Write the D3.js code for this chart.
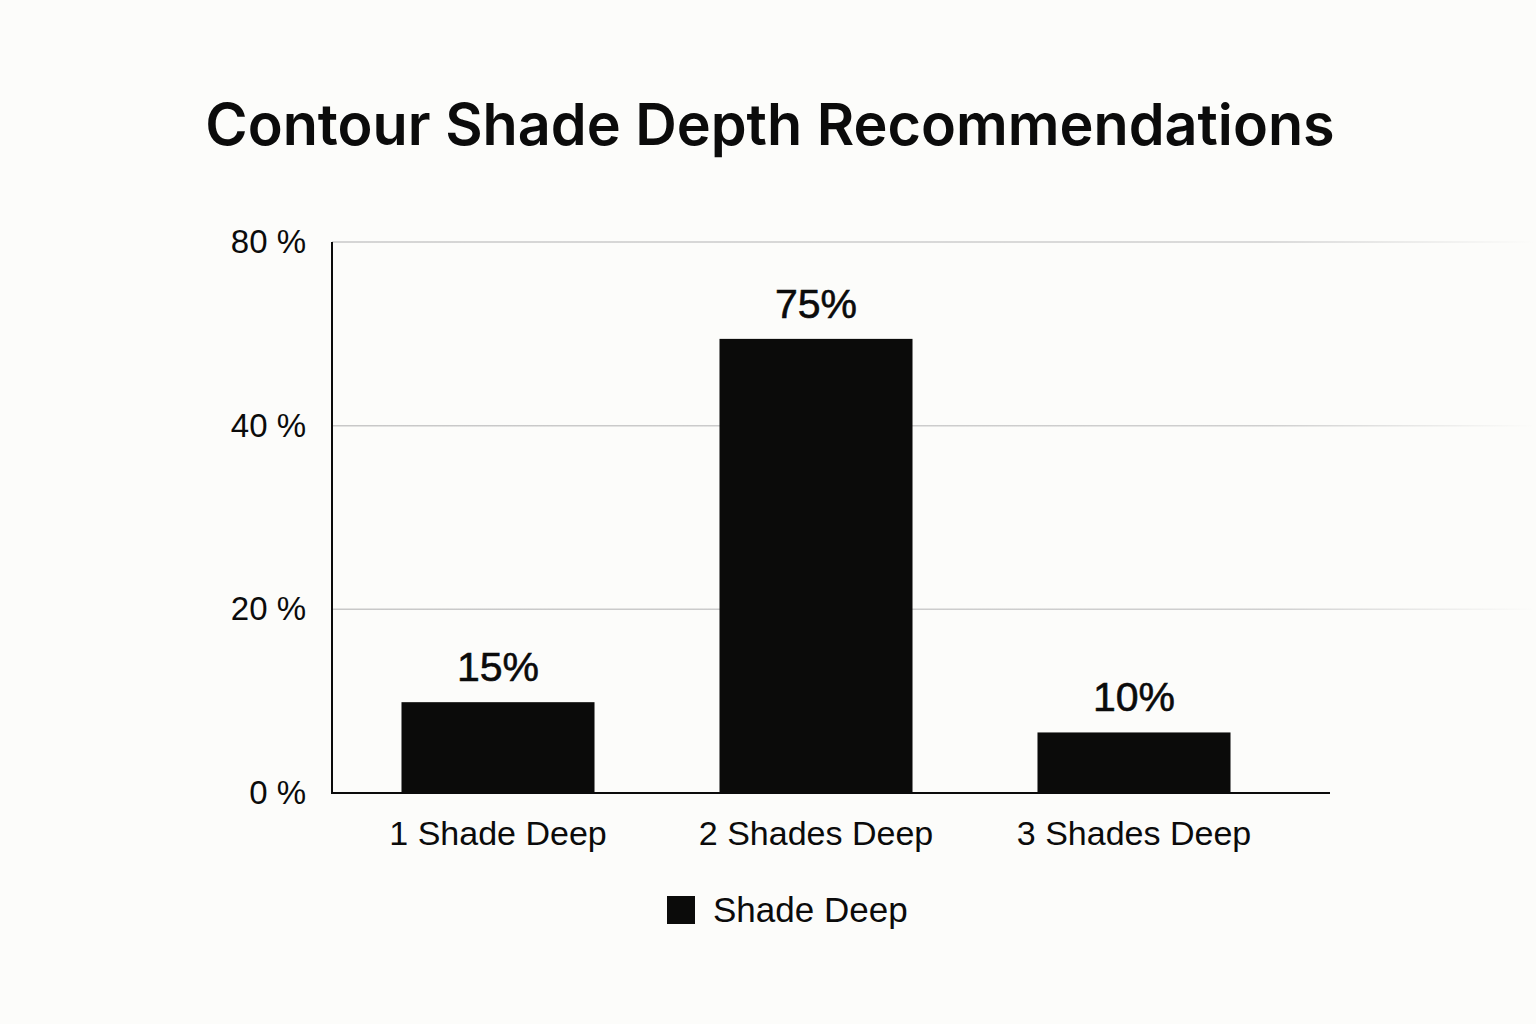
<!DOCTYPE html>
<html><head><meta charset="utf-8">
<script src="https://cdn.jsdelivr.net/npm/d3@7"></script>
<style>
html,body{margin:0;padding:0;background:#fcfcfa;}
svg{display:block;}
text{font-family:"Liberation Sans",Arial,sans-serif;fill:#0b0b0b;}
</style></head>
<body><svg id="c" width="1536" height="1024"></svg>
<script>
const title = "Contour Shade Depth Recommendations";
const categories = ["1 Shade Deep", "2 Shades Deep", "3 Shades Deep"];
const values = [15, 75, 10];
const valueLabels = ["15%", "75%", "10%"];
const tickLabels = ["0 %", "20 %", "40 %", "80 %"];
const seriesName = "Shade Deep";

(function(){
const svg = d3.select("#c");
const pLeft = 332, pRight = 1330, pTop = 242, pBottom = 793;

const x = d3.scaleBand().domain(categories).range([339, 1293]).paddingInner(0.393).paddingOuter(0.1965);
const y = d3.scaleLinear().domain([0, 91]).range([pBottom, pTop]);
const yTick = d3.scalePoint().domain(tickLabels).range([pBottom, pTop]).padding(0);

const defs = svg.append("defs");
const grad = defs.append("linearGradient").attr("id","gfade").attr("gradientUnits","userSpaceOnUse")
  .attr("x1", pLeft).attr("x2", 1535).attr("y1",0).attr("y2",0);
grad.append("stop").attr("offset","0").attr("stop-color","#c8c8c8");
grad.append("stop").attr("offset","0.78").attr("stop-color","#cfcfcf");
grad.append("stop").attr("offset","1").attr("stop-color","#fcfcfa");

// title
svg.append("text").attr("x", 770).attr("y", 145).attr("text-anchor","middle")
  .style("font-family","Inter, 'Liberation Sans', sans-serif")
  .style("font-size","57.5px").style("font-weight","600").text(title);

// gridlines
svg.append("g").selectAll("line").data(tickLabels.slice(1)).join("line")
  .attr("x1", pLeft).attr("x2", 1535)
  .attr("y1", d => yTick(d)).attr("y2", d => yTick(d))
  .attr("stroke","url(#gfade)").attr("stroke-width",1.5);

// y axis
const yAxis = d3.axisLeft(yTick).tickSize(0).tickPadding(26);
const gy = svg.append("g").attr("transform", `translate(${pLeft},0)`).call(yAxis);
gy.select(".domain").remove();
gy.selectAll("text").style("font-size","33px").style("font-family","'Liberation Sans',Arial,sans-serif").attr("fill","#0b0b0b");
svg.append("line").attr("x1",pLeft).attr("x2",pLeft).attr("y1",pTop).attr("y2",pBottom+1).attr("stroke","#0b0b0b").attr("stroke-width",2);

// bars
svg.append("g").selectAll("rect").data(values).join("rect")
  .attr("x", (d,i) => x(categories[i]))
  .attr("width", x.bandwidth())
  .attr("y", d => y(d))
  .attr("height", d => pBottom - y(d))
  .attr("fill","#0b0b0a");

// value labels
svg.append("g").selectAll("text").data(values).join("text")
  .attr("x", (d,i) => x(categories[i]) + x.bandwidth()/2)
  .attr("y", d => y(d) - 21)
  .attr("text-anchor","middle")
  .style("font-size","41px")
  .style("stroke","#0b0b0b").style("stroke-width","0.6px")
  .text((d,i) => valueLabels[i]);

// x axis
svg.append("line").attr("x1",pLeft-1).attr("x2",pRight).attr("y1",pBottom).attr("y2",pBottom).attr("stroke","#0b0b0b").attr("stroke-width",2);
const xAxis = d3.axisBottom(x).tickSize(0).tickPadding(28);
const gx = svg.append("g").attr("transform", `translate(0,${pBottom})`).call(xAxis);
gx.select(".domain").remove();
gx.selectAll("text").style("font-size","34px").style("font-family","'Liberation Sans',Arial,sans-serif").attr("fill","#0b0b0b");

// legend
const lg = svg.append("g").attr("transform","translate(667,896)");
lg.append("rect").attr("width",28).attr("height",28).attr("fill","#0b0b0a");
lg.append("text").attr("x",46).attr("y",26).style("font-size","35px").text(seriesName);
})();
</script>
</body></html>
